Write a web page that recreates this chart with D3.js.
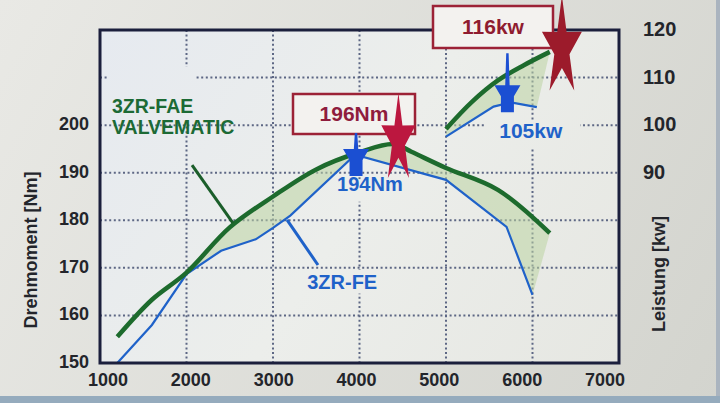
<!DOCTYPE html>
<html>
<head>
<meta charset="utf-8">
<script src="https://cdn.jsdelivr.net/npm/d3@7"></script>
<style>
  html, body { margin: 0; padding: 0; background: #dedfda; }
  svg { display: block; }
  text { font-family: "Liberation Sans", Arial, sans-serif; font-weight: bold; }
</style>
</head>
<body>
<svg id="chart"></svg>
<script>
// Torque / power curves, 3ZR-FAE (Valvematic) vs 3ZR-FE

// --- data ---
const rpmFAE    = [1200, 1600, 2000, 2500, 3000, 3500, 4000, 4400, 4600, 5000, 5600, 6200];
const torqueFAE = [155.5, 163.3, 169, 178.5, 185, 190.7, 194.3, 196, 194.4, 191, 186.4, 177.3];

const rpmFE    = [1200, 1600, 2000, 2400, 2800, 3000, 3200, 3950, 4800, 5000, 5700, 6000];
const torqueFE = [150, 158, 168.7, 173.6, 176, 178.4, 181, 193.8, 189.5, 188.5, 178.6, 164.3];

const rpmPowerFAE = [5000, 5300, 5600, 5900, 6200];
const powerFAE    = [99.2, 104.9, 109.4, 112.6, 115.4];

const rpmPowerFE = [5000, 5550, 5750, 6050];
const powerFE    = [97.6, 103.9, 104.8, 103.8];

const xTicks = [1000, 2000, 3000, 4000, 5000, 6000, 7000];
const torqueTicks = [150, 160, 170, 180, 190, 200];
const powerTicks = [90, 100, 110, 120];
const xGrid = [2000, 3000, 4000, 5000, 6000];
const yGrid = [160, 170, 180, 190, 200, 210];

// --- sizes ---
const width = 720, height = 403;
const plotLeft = 100, plotRight = 619, plotTop = 30, plotBottom = 363;

const svg = d3.select("#chart").attr("width", width).attr("height", height);
const defs = svg.append("defs");

const bgGrad = defs.append("linearGradient").attr("id", "bgGrad")
  .attr("gradientUnits", "userSpaceOnUse")
  .attr("x1", 0).attr("y1", 0).attr("x2", 720).attr("y2", 403);
bgGrad.append("stop").attr("offset", 0).attr("stop-color", "#e9e9e5");
bgGrad.append("stop").attr("offset", 1).attr("stop-color", "#d3d4ce");

const plotGrad = defs.append("linearGradient").attr("id", "plotGrad")
  .attr("gradientUnits", "userSpaceOnUse")
  .attr("x1", 100).attr("y1", 30).attr("x2", 620).attr("y2", 363);
plotGrad.append("stop").attr("offset", 0).attr("stop-color", "#e6eaf0");
plotGrad.append("stop").attr("offset", 0.5).attr("stop-color", "#eceeeb");
plotGrad.append("stop").attr("offset", 1).attr("stop-color", "#e6e7e2");

// photo background
svg.append("rect").attr("width", width).attr("height", height).attr("fill", "url(#bgGrad)");
svg.append("rect").attr("x", 0).attr("y", 396).attr("width", width).attr("height", 7).attr("fill", "#95abbd");
svg.append("rect").attr("x", 716).attr("y", 0).attr("width", 4).attr("height", 396).attr("fill", "#aab4bf");

// scales
const x = d3.scaleLinear().domain([1000, 7000]).range([plotLeft, plotRight]);
const xLab = d3.scaleLinear().domain([1000, 7000]).range([108, 605]);
const yT = d3.scaleLinear().domain([150, 220]).range([plotBottom, plotTop]);
const yP = d3.scaleLinear().domain([50, 120]).range([plotBottom, plotTop]);

svg.append("rect")
  .attr("x", plotLeft).attr("y", plotTop)
  .attr("width", plotRight - plotLeft).attr("height", plotBottom - plotTop)
  .attr("fill", "url(#plotGrad)");

// grid
const grid = svg.append("g")
  .attr("stroke", "#5d6784")
  .attr("stroke-width", 2)
  .attr("stroke-dasharray", "2,2.6");

grid.selectAll(".vg").data(xGrid).enter().append("line")
  .attr("x1", d => x(d)).attr("x2", d => x(d))
  .attr("y1", plotTop).attr("y2", plotBottom);

grid.selectAll(".hg").data(yGrid).enter().append("line")
  .attr("x1", plotLeft).attr("x2", plotRight)
  .attr("y1", d => yT(d)).attr("y2", d => yT(d));

// label backgrounds hide the grid behind the texts
const clearBoxes = [
  [1090, 212.3, 2100, 200.2],  // 3ZR-FAE VALVEMATIC
  [5450, 200.8, 6550, 195.4],  // 105kw
  [3830, 188.6, 4650, 183.9],  // 194Nm
  [3300, 169.6, 4150, 164.6]   // 3ZR-FE
];
svg.selectAll(".clear").data(clearBoxes).enter().append("rect")
  .attr("x", d => x(d[0])).attr("y", d => yT(d[1]))
  .attr("width", d => x(d[2]) - x(d[0]))
  .attr("height", d => yT(d[3]) - yT(d[1]))
  .attr("fill", "url(#plotGrad)");

// shaded differences
const fillColor = "#bcd4a2";
const torqueFrom = rpmFAE.indexOf(2000);
const torqueFromFE = rpmFE.indexOf(2000);
const torqueArea = rpmFAE.slice(torqueFrom).map((r, i) => [x(r), yT(torqueFAE[torqueFrom + i])])
  .concat(rpmFE.slice(torqueFromFE).map((r, i) => [x(r), yT(torqueFE[torqueFromFE + i])]).reverse());
const powerArea = rpmPowerFAE.map((r, i) => [x(r), yP(powerFAE[i])])
  .concat(rpmPowerFE.map((r, i) => [x(r), yP(powerFE[i])]).reverse());

svg.selectAll(".area").data([torqueArea, powerArea]).enter().append("path")
  .attr("d", d => "M" + d.join("L") + "Z")
  .attr("fill", fillColor)
  .attr("fill-opacity", 0.55);

// curves
const green = "#1d6b2d";
const blue = "#1f62c9";

const smooth = d3.line().curve(d3.curveCatmullRom.alpha(0.5));
const straight = d3.line();

svg.append("path")
  .attr("d", straight(rpmFE.map((r, i) => [x(r), yT(torqueFE[i])])))
  .attr("fill", "none").attr("stroke", blue).attr("stroke-width", 2.2);
svg.append("path")
  .attr("d", straight(rpmPowerFE.map((r, i) => [x(r), yP(powerFE[i])])))
  .attr("fill", "none").attr("stroke", blue).attr("stroke-width", 2.2);
svg.append("path")
  .attr("d", smooth(rpmFAE.map((r, i) => [x(r), yT(torqueFAE[i])])))
  .attr("fill", "none").attr("stroke", green).attr("stroke-width", 4.5);
svg.append("path")
  .attr("d", smooth(rpmPowerFAE.map((r, i) => [x(r), yP(powerFAE[i])])))
  .attr("fill", "none").attr("stroke", green).attr("stroke-width", 4.5);

// frame
svg.append("rect")
  .attr("x", plotLeft).attr("y", plotTop)
  .attr("width", plotRight - plotLeft).attr("height", plotBottom - plotTop)
  .attr("fill", "none").attr("stroke", "#1b1f3c").attr("stroke-width", 3);

// tick labels
svg.selectAll(".xl").data(xTicks).enter().append("text")
  .attr("x", d => xLab(d)).attr("y", 386)
  .attr("text-anchor", "middle").attr("font-size", 18).attr("fill", "#23252b")
  .text(d => d);

svg.selectAll(".yl").data(torqueTicks).enter().append("text")
  .attr("x", 89).attr("y", d => yT(d) + 5)
  .attr("text-anchor", "end").attr("font-size", 18).attr("fill", "#23252b")
  .text(d => d);

svg.selectAll(".pl").data(powerTicks).enter().append("text")
  .attr("x", 643).attr("y", d => yP(d) + 6)
  .attr("text-anchor", "start").attr("font-size", 20).attr("fill", "#23252b")
  .text(d => d);

// axis titles
svg.append("text")
  .attr("transform", "translate(37,250) rotate(-90)")
  .attr("text-anchor", "middle").attr("font-size", 18).attr("fill", "#23252b")
  .text("Drehmoment [Nm]");
svg.append("text")
  .attr("transform", "translate(665,274) rotate(-90)")
  .attr("text-anchor", "middle").attr("font-size", 18).attr("fill", "#23252b")
  .text("Leistung [kw]");

// series labels and leader lines
svg.append("line")
  .attr("x1", x(2064)).attr("y1", yT(191.6))
  .attr("x2", x(2538)).attr("y2", yT(179.4))
  .attr("stroke", "#1b5e2a").attr("stroke-width", 3);
svg.append("line")
  .attr("x1", x(3520)).attr("y1", yT(170.6))
  .attr("x2", x(3162)).attr("y2", yT(180.1))
  .attr("stroke", blue).attr("stroke-width", 3);

const faeLabel = svg.append("text")
  .attr("font-size", 19.5).attr("fill", "#1c6a35");
faeLabel.append("tspan").attr("x", 112).attr("y", 113).text("3ZR-FAE");
faeLabel.append("tspan").attr("x", 112).attr("y", 134).text("VALVEMATIC");

svg.append("text")
  .attr("x", x(3800)).attr("y", yT(165.5))
  .attr("text-anchor", "middle").attr("font-size", 20).attr("fill", blue)
  .text("3ZR-FE");

// peak markers
function starPath(rx, ry, k) {
  const pts = [];
  for (let i = 0; i < 10; i++) {
    const a = -Math.PI / 2 + i * Math.PI / 5;
    const f = i % 2 === 0 ? 1 : k;
    pts.push([Math.cos(a) * rx * f, Math.sin(a) * ry * f]);
  }
  return "M" + pts.join("L") + "Z";
}

function arrowPath(shaft) {
  return `M-1.2,${-shaft}L1.2,${-shaft}L2.2,0L13,0L6.5,11L6.5,27L-6.5,27L-6.5,11L-13,0L-2.2,0Z`;
}

const boxStroke = "#9c2236";
const boxes = [
  { text: "196Nm", x0: 293, y0: 94, w: 122, h: 40, color: "#8f1c3d" },
  { text: "116kw", x0: 433, y0: 6, w: 120, h: 42, color: "#8f1c2f" }
];
svg.selectAll(".box").data(boxes).enter().append("rect")
  .attr("x", d => d.x0).attr("y", d => d.y0)
  .attr("width", d => d.w).attr("height", d => d.h)
  .attr("fill", "#f3f2ef").attr("stroke", boxStroke).attr("stroke-width", 2.5);
svg.selectAll(".boxText").data(boxes).enter().append("text")
  .attr("x", d => d.x0 + d.w / 2).attr("y", d => d.y0 + d.h / 2 + 7)
  .attr("text-anchor", "middle").attr("font-size", 21).attr("fill", d => d.color)
  .text(d => d.text);

// stars at the 3ZR-FAE peaks
svg.append("path")
  .attr("transform", `translate(${x(4450)},${yT(196.9)})`)
  .attr("d", starPath(18, 47, 0.38))
  .attr("fill", "#bc173f");
svg.append("path")
  .attr("transform", `translate(${x(6340)},${yP(116.2)})`)
  .attr("d", starPath(21, 52.5, 0.38))
  .attr("fill", "#9c1b2b");

// arrows at the 3ZR-FE peaks
svg.append("path")
  .attr("transform", `translate(${x(3960)},${yT(195)})`)
  .attr("d", arrowPath(16))
  .attr("fill", "#1b4fd2");
svg.append("path")
  .attr("transform", `translate(${x(5710)},${yP(108.4)})`)
  .attr("d", arrowPath(32))
  .attr("fill", "#1b4fd2");

svg.append("text")
  .attr("x", x(4120)).attr("y", yT(186.2))
  .attr("text-anchor", "middle").attr("font-size", 20).attr("fill", blue)
  .text("194Nm");
svg.append("text")
  .attr("x", x(5980)).attr("y", yP(97.3))
  .attr("text-anchor", "middle").attr("font-size", 21).attr("fill", blue)
  .text("105kw");
</script>
</body>
</html>
